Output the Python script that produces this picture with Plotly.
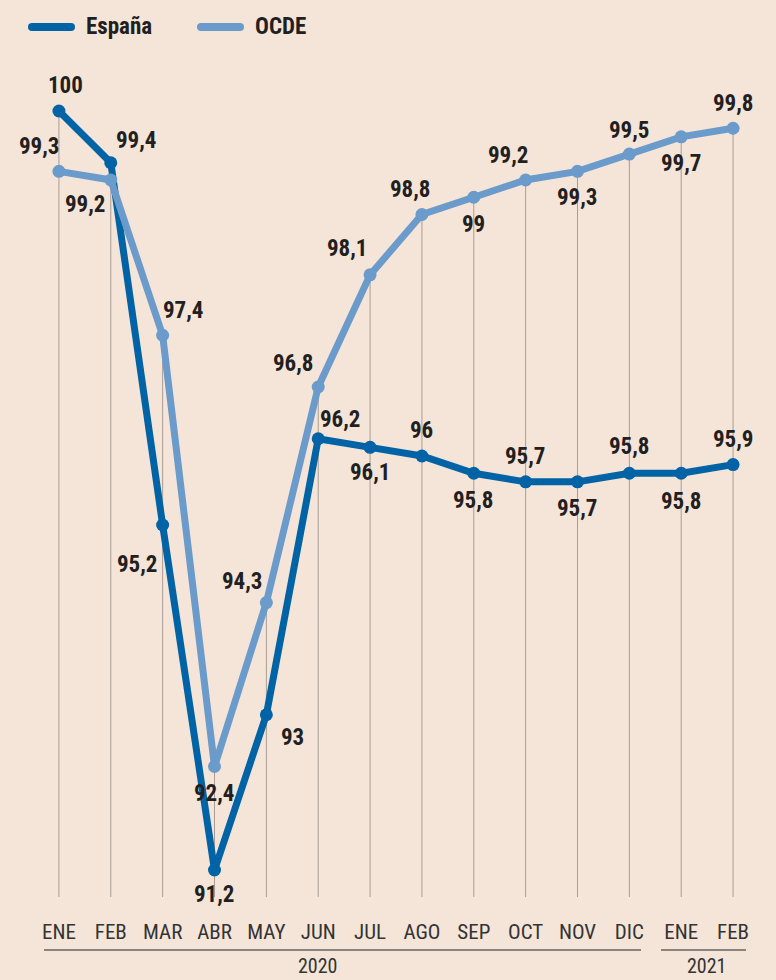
import plotly.graph_objects as go

months = ["ENE", "FEB", "MAR", "ABR", "MAY", "JUN", "JUL", "AGO", "SEP", "OCT", "NOV", "DIC", "ENE", "FEB"]
espana = [100, 99.4, 95.2, 91.2, 93, 96.2, 96.1, 96, 95.8, 95.7, 95.7, 95.8, 95.8, 95.9]
ocde = [99.3, 99.2, 97.4, 92.4, 94.3, 96.8, 98.1, 98.8, 99, 99.2, 99.3, 99.5, 99.7, 99.8]
years = ["2020", "2021"]
series_names = ["España", "OCDE"]

# label offsets (px) - styling only
esp_off = [(7, 25), (26, 22), (-25, -40), (0, -24), (26, -23), (22, 19), (0, -25),
           (0, 25), (0, -27), (0, 25), (0, -27), (0, 27), (0, -28), (0, 25)]
ocde_off = [(-19, 25), (-25, -25), (21, 25), (0, -27), (-24, 21), (-25, 23), (-23, 26),
            (-11, 25), (0, -27), (-17, 24), (0, -26), (0, 24), (0, -27), (0, 25)]

C_ESP = "#0063A6"
C_OCDE = "#6B9BCB"
BG = "#F5E5D9"
TXT = "#231F20"
FONT = "Roboto Condensed, Liberation Sans Narrow, DejaVu Sans Condensed, sans-serif"

x = list(range(len(months)))
fmt = lambda v: (f"{v:g}").replace(".", ",")

YMIN, YMAX = 90.887, 100.591
L, R, T, B = 33, 17, 60, 83
PW, PH = 776 - L - R, 980 - T - B
px = lambda v: (v - L) / PW        # pixel -> paper x
py = lambda v: (980 - B - v) / PH  # pixel -> paper y

fig = go.Figure()
fig.add_trace(go.Scatter(x=x, y=espana, mode="lines+markers", showlegend=False, name=series_names[0],
                         line=dict(color=C_ESP, width=7), marker=dict(size=13, color=C_ESP)))
fig.add_trace(go.Scatter(x=x, y=ocde, mode="lines+markers", showlegend=False, name=series_names[1],
                         line=dict(color=C_OCDE, width=7), marker=dict(size=13, color=C_OCDE)))

shapes = []
for i in x:
    shapes.append(dict(type="line", xref="x", yref="y", x0=i, x1=i, y0=YMIN,
                       y1=max(espana[i], ocde[i]), line=dict(color="#A89C94", width=1),
                       layer="below"))
# year brackets
shapes.append(dict(type="line", xref="paper", yref="paper", x0=px(44), x1=px(641), y0=py(950), y1=py(950),
                   line=dict(color="#8A8480", width=2)))
shapes.append(dict(type="line", xref="paper", yref="paper", x0=px(661), x1=px(746), y0=py(950), y1=py(950),
                   line=dict(color="#8A8480", width=2)))
# legend swatches
for (a, b), c in (((32, 71), C_ESP), ((201, 240), C_OCDE)):
    shapes.append(dict(type="line", xref="paper", yref="paper", x0=px(a), x1=px(b), y0=py(27), y1=py(27),
                       line=dict(color=c, width=8)))
    for e in (a, b):
        shapes.append(dict(type="circle", xref="paper", yref="paper", x0=px(e - 4), x1=px(e + 4),
                           y0=py(31), y1=py(23), line=dict(width=0), fillcolor=c))

ann = []
for i in x:
    for vals, offs in ((espana, esp_off), (ocde, ocde_off)):
        dx, dy = offs[i]
        ann.append(dict(x=i, y=vals[i], text=fmt(vals[i]), showarrow=False, xshift=dx, yshift=dy,
                        font=dict(family=FONT, size=23, color=TXT, weight="bold")))
ann.append(dict(x=5, y=py(966), xref="x", yref="paper", text=years[0], showarrow=False, yanchor="middle",
                font=dict(family=FONT, size=20, color="#333")))
ann.append(dict(x=12.5, y=py(966), xref="x", yref="paper", text=years[1], showarrow=False, yanchor="middle",
                font=dict(family=FONT, size=20, color="#333")))
for name, xl in zip(series_names, (84, 253)):
    ann.append(dict(x=px(xl), y=py(27), xref="paper", yref="paper", text=name, showarrow=False,
                    xanchor="left", yanchor="middle",
                    font=dict(family=FONT, size=23, color=TXT, weight="bold")))

fig.update_layout(
    width=776, height=980, paper_bgcolor=BG, plot_bgcolor=BG,
    margin=dict(l=L, r=R, t=T, b=B), showlegend=False,
    shapes=shapes, annotations=ann,
    xaxis=dict(range=[-0.5, 13.5], tickmode="array", tickvals=x, ticktext=months,
               showgrid=False, zeroline=False, showline=False, ticks="outside", ticklen=16,
               tickcolor="rgba(0,0,0,0)", tickfont=dict(family=FONT, size=21, color="#333")),
    yaxis=dict(range=[YMIN, YMAX], visible=False),
)
fig.write_html("out.html", config={"displayModeBar": False},
               post_script="document.body.style.margin='0';")
